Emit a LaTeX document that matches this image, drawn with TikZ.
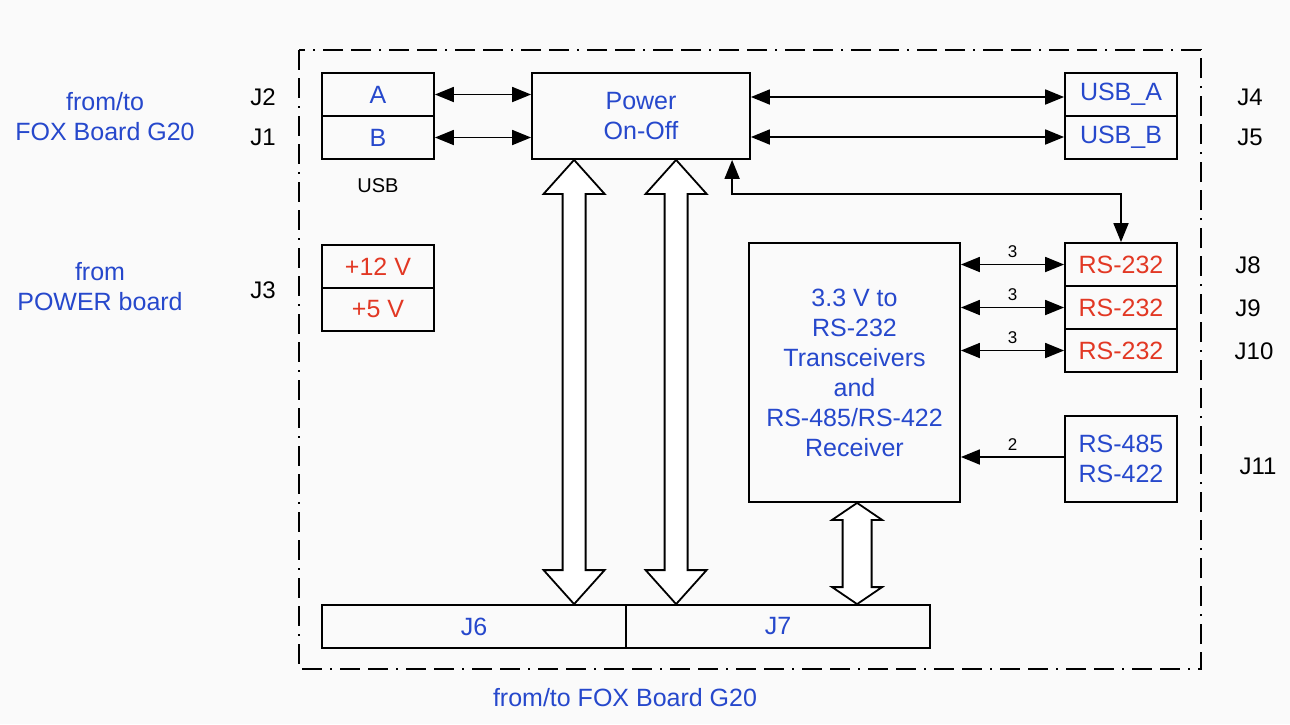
\documentclass[tikz,border=0pt]{standalone}
\usepackage{fontspec}
\setmainfont{Liberation Sans}
\usetikzlibrary{arrows.meta,calc}
\definecolor{tblue}{RGB}{38,72,204}
\definecolor{tred}{RGB}{226,56,36}
\definecolor{bgc}{RGB}{250,250,250}
\tikzset{
  px/.style={x=1pt,y=-1pt},
  box/.style={draw=black,line width=1.8pt,rectangle,inner sep=0pt,minimum width=112pt,minimum height=43pt,font=\fontsize{25}{30}\selectfont,align=center},
  bluet/.style={text=tblue},
  redt/.style={text=tred},
  lbl/.style={font=\fontsize{25}{30}\selectfont,align=center,inner sep=0pt},
  jl/.style={font=\fontsize{24}{30}\selectfont,inner sep=0pt,text=black},
  small/.style={font=\fontsize{17}{19}\selectfont,inner sep=0pt},
  conn/.style={line width=1.8pt,{Triangle[length=19pt,width=15pt]}-{Triangle[length=19pt,width=15pt]}},
  conn1/.style={line width=1.8pt,-{Triangle[length=19pt,width=15pt]}},
  hollow/.style={draw=black,fill=white,line width=1.8pt,line join=miter},
  frame/.style={line width=1.8pt,dash pattern=on 20pt off 8pt on 20pt off 8pt on 2pt off 8pt}
}
\newcommand{\dblarrow}[5]{%
  \draw[hollow] let \p1=#1, \p2=#2 in
    (\x1,\y1) -- (\x1+#3pt,\y1-#5pt) -- (\x1+#4pt,\y1-#5pt) -- (\x1+#4pt,\y2+#5pt)
    -- (\x1+#3pt,\y2+#5pt) -- (\x1,\y2) -- (\x1-#3pt,\y2+#5pt) -- (\x1-#4pt,\y2+#5pt)
    -- (\x1-#4pt,\y1-#5pt) -- (\x1-#3pt,\y1-#5pt) -- cycle;}
\begin{document}
\begin{tikzpicture}[px]
\fill[bgc] (0,0) rectangle (1290,724);
\useasboundingbox (0,0) rectangle (1290,724);
% frame
\draw[frame] (299,50) rectangle (1201,669);
% left boxes
\node[box,bluet] (a) at (378,94.5) {A};
\node[box,bluet] (b) at (378,137.5) {B};
\node[font=\fontsize{20}{24}\selectfont,inner sep=0pt] (usb) at (378,186) {USB};
\node[box,redt] (p12) at (378,266.5) {+12 V};
\node[box,redt] (p5) at (378,309.5) {+5 V};
% power
\node[box,bluet,minimum width=218pt,minimum height=86pt] (power) at (641,116) {Power\\On-Off};
% right usb
\node[box,bluet] (usba) at (1121,94.5) {USB\_A};
\node[box,bluet] (usbb) at (1121,137.5) {USB\_B};
% converter
\node[box,bluet,minimum width=211pt,minimum height=259pt] (conv) at (854.5,372.5) {3.3 V to\\RS-232\\Transceivers\\and\\RS-485/RS-422\\Receiver};
\node[box,redt] (r1) at (1121,264.5) {RS-232};
\node[box,redt] (r2) at (1121,307.5) {RS-232};
\node[box,redt] (r3) at (1121,350.5) {RS-232};
\node[box,bluet,minimum height=86pt] (r485) at (1121,459) {RS-485\\RS-422};
% bottom
\node[box,bluet,minimum width=304pt] (j6) at (474,626.5) {J6};
\node[box,bluet,minimum width=304pt] (j7) at (778,626.5) {J7};
% labels
\node[lbl,bluet] (l1) at (105,117) {from/to\\FOX Board G20};
\node[lbl,bluet] (l2) at (100,287) {from\\POWER board};
\node[lbl,bluet] (l3) at (625,698) {from/to FOX Board G20};
\node[jl] (j2) at (263,97) {J2};
\node[jl] (j1) at (263,137) {J1};
\node[jl] (j3) at (263,290) {J3};
\node[jl] (j4) at (1250,97) {J4};
\node[jl] (j5) at (1250,137) {J5};
\node[jl] (j8) at (1248,265) {J8};
\node[jl] (j9) at (1248,308) {J9};
\node[jl] (j10) at (1254,351) {J10};
\node[jl] (j11) at (1258,466) {J11};
% connectors
\draw[conn] (a.east) -- (power.west |- a.east);
\draw[conn] (b.east) -- (power.west |- b.east);
\draw[conn] ($(power.east)+(0,-19)$) -- ($(usba.west)+(0,2.5)$);
\draw[conn] ($(power.east)+(0,21)$) -- ($(usbb.west)+(0,-0.5)$);
\coordinate (pc) at ($(power.south west)+(201,0)$);
\draw[conn] (pc) -- ++(0,34) -| (r1.north);
\draw[conn] (conv.east |- r1.west) -- node[small,above=6pt] (n1) {3} (r1.west);
\draw[conn] (conv.east |- r2.west) -- node[small,above=6pt] (n2) {3} (r2.west);
\draw[conn] (conv.east |- r3.west) -- node[small,above=6pt] (n3) {3} (r3.west);
\coordinate (rs) at ($(r485.west)+(0,-2)$);
\draw[conn1] (rs) -- node[small,above=6pt] (n4) {2} (conv.east |- rs);
% hollow arrows
\coordinate (a1t) at ($(power.south west)+(43,0)$);
\coordinate (a1b) at (a1t |- j6.north);
\coordinate (a2t) at ($(power.south west)+(145,0)$);
\coordinate (a2b) at (a2t |- j6.north);
\coordinate (a3t) at ($(conv.south west)+(109,0)$);
\coordinate (a3b) at (a3t |- j7.north);
\dblarrow{(a1t)}{(a1b)}{30.5}{11.5}{34}
\dblarrow{(a2t)}{(a2b)}{30.5}{11.5}{34}
\dblarrow{(a3t)}{(a3b)}{25}{14.5}{17}
\end{tikzpicture}
\end{document}
